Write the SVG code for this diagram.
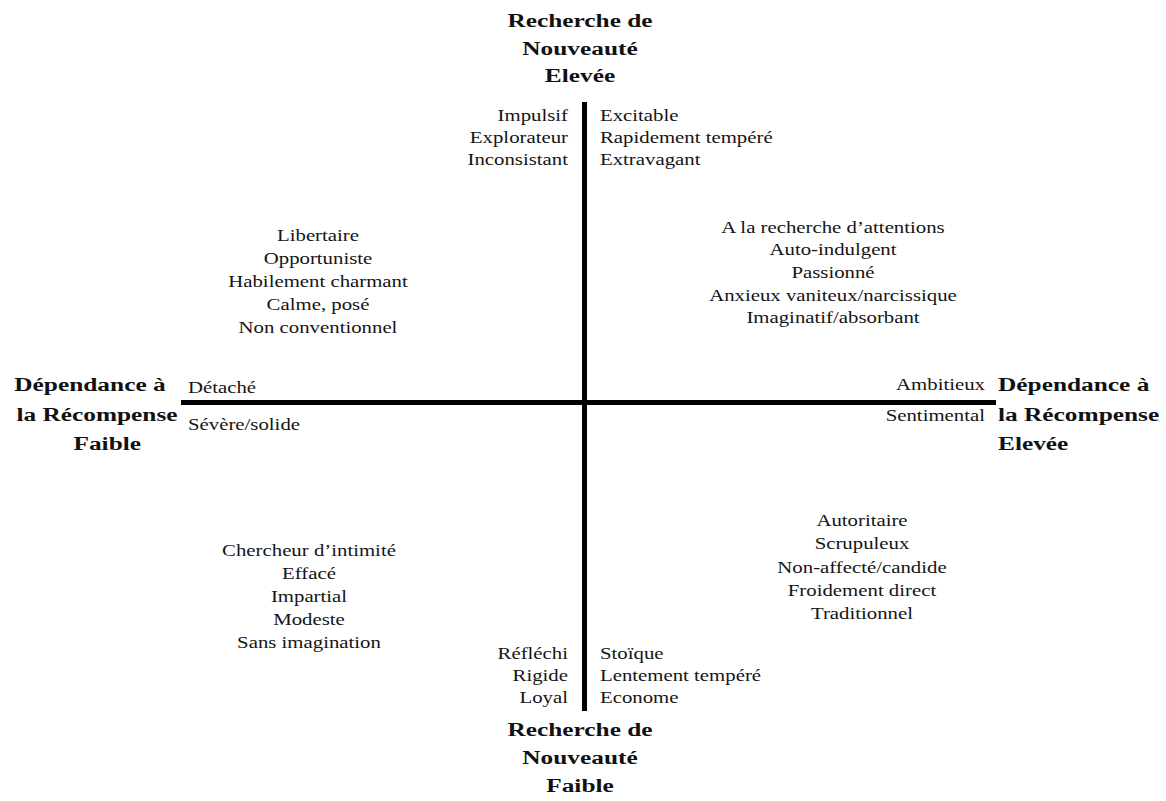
<svg xmlns="http://www.w3.org/2000/svg" width="1166" height="801" viewBox="0 0 1166 801">
<style>
.t{font-family:"Liberation Serif","Times New Roman",serif;font-size:16px;fill:#151515}
.b{font-family:"Liberation Serif","Times New Roman",serif;font-size:19.5px;font-weight:bold;fill:#111}
.m{text-anchor:middle}.e{text-anchor:end}
.ax{stroke:#000;stroke-width:5;fill:none}
</style>
<rect width="1166" height="801" fill="#fff"/>
<g id="axes">
<line class="ax" x1="584.5" y1="102" x2="584.5" y2="711"/>
<line class="ax" x1="181" y1="402.5" x2="996" y2="402.5"/>
</g>
<g id="title-top"><text class="b m" transform="translate(580,27) scale(1.3 1)"><tspan x="0" y="0">Recherche de</tspan><tspan x="0" y="28">Nouveauté</tspan><tspan x="0" y="55">Elevée</tspan></text></g>
<g id="top-left-list"><text class="t e" transform="translate(568,121) scale(1.3 1)"><tspan x="0" y="0">Impulsif</tspan><tspan x="0" y="22">Explorateur</tspan><tspan x="0" y="44">Inconsistant</tspan></text></g>
<g id="top-right-list"><text class="t" transform="translate(600,121) scale(1.3 1)"><tspan x="0" y="0">Excitable</tspan><tspan x="0" y="22">Rapidement tempéré</tspan><tspan x="0" y="44">Extravagant</tspan></text></g>
<g id="quadrant-top-left"><text class="t m" transform="translate(318,241) scale(1.3 1)"><tspan x="0" y="0">Libertaire</tspan><tspan x="0" y="23">Opportuniste</tspan><tspan x="0" y="46">Habilement charmant</tspan><tspan x="0" y="69">Calme, posé</tspan><tspan x="0" y="92">Non conventionnel</tspan></text></g>
<g id="quadrant-top-right"><text class="t m" transform="translate(833,233) scale(1.3 1)"><tspan x="0" y="0">A la recherche d’attentions</tspan><tspan x="0" y="22.5">Auto-indulgent</tspan><tspan x="0" y="45">Passionné</tspan><tspan x="0" y="68">Anxieux vaniteux/narcissique</tspan><tspan x="0" y="90">Imaginatif/absorbant</tspan></text></g>
<g id="title-left"><text class="b m" transform="translate(0,391) scale(1.3 1)"><tspan x="69.2" y="0">Dépendance à</tspan><tspan x="74.6" y="30">la Récompense</tspan><tspan x="82.5" y="59">Faible</tspan></text></g>
<g id="left-labels"><text class="t" transform="translate(188,393) scale(1.3 1)">Détaché</text><text class="t" transform="translate(188,430) scale(1.3 1)">Sévère/solide</text></g>
<g id="title-right"><text class="b" transform="translate(998,391) scale(1.3 1)"><tspan x="0" y="0">Dépendance à</tspan><tspan x="0" y="30">la Récompense</tspan><tspan x="0" y="59">Elevée</tspan></text></g>
<g id="right-labels"><text class="t e" transform="translate(985,390) scale(1.3 1)">Ambitieux</text><text class="t e" transform="translate(985,421) scale(1.3 1)">Sentimental</text></g>
<g id="quadrant-bottom-left"><text class="t m" transform="translate(309,556) scale(1.3 1)"><tspan x="0" y="0">Chercheur d’intimité</tspan><tspan x="0" y="23">Effacé</tspan><tspan x="0" y="46">Impartial</tspan><tspan x="0" y="69">Modeste</tspan><tspan x="0" y="92">Sans imagination</tspan></text></g>
<g id="quadrant-bottom-right"><text class="t m" transform="translate(862,526) scale(1.3 1)"><tspan x="0" y="0">Autoritaire</tspan><tspan x="0" y="23.3">Scrupuleux</tspan><tspan x="0" y="47">Non-affecté/candide</tspan><tspan x="0" y="70">Froidement direct</tspan><tspan x="0" y="93">Traditionnel</tspan></text></g>
<g id="bottom-left-list"><text class="t e" transform="translate(568,659) scale(1.3 1)"><tspan x="0" y="0">Réfléchi</tspan><tspan x="0" y="22">Rigide</tspan><tspan x="0" y="44">Loyal</tspan></text></g>
<g id="bottom-right-list"><text class="t" transform="translate(600,659) scale(1.3 1)"><tspan x="0" y="0">Stoïque</tspan><tspan x="0" y="22">Lentement tempéré</tspan><tspan x="0" y="44">Econome</tspan></text></g>
<g id="title-bottom"><text class="b m" transform="translate(580,736) scale(1.3 1)"><tspan x="0" y="0">Recherche de</tspan><tspan x="0" y="28">Nouveauté</tspan><tspan x="0" y="56">Faible</tspan></text></g>
</svg>
